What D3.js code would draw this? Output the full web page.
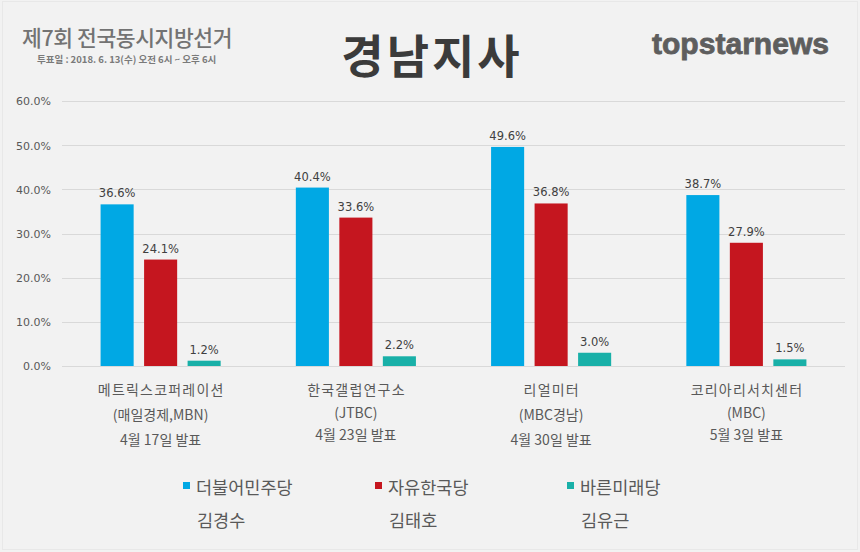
<!DOCTYPE html>
<html>
<head>
<meta charset="utf-8">
<script src="https://cdn.jsdelivr.net/npm/d3@7"></script>
<style>
  html, body { margin: 0; padding: 0; background: #f2f2f2; }
  svg { display: block; }
</style>
</head>
<body>
<svg id="chart" width="860" height="552"></svg>
<script>
// ---- data ----
const categories = [
  ["메트릭스코퍼레이션", "(매일경제,MBN)", "4월 17일 발표"],
  ["한국갤럽연구소", "(JTBC)", "4월 23일 발표"],
  ["리얼미터", "(MBC경남)", "4월 30일 발표"],
  ["코리아리서치센터", "(MBC)", "5월 3일 발표"]
];
const parties = ["더불어민주당", "자유한국당", "바른미래당"];
const candidates = ["김경수", "김태호", "김유근"];
const seriesValues = [
  [36.6, 40.4, 49.6, 38.7],
  [24.1, 33.6, 36.8, 27.9],
  [1.2, 2.2, 3.0, 1.5]
];
const yTicks = [0, 10, 20, 30, 40, 50, 60];
const colors = ["#00a8e4", "#c5161f", "#19b0a8"];
const titleText = "경남지사";
const headerText = "제7회 전국동시지방선거";
const subHeaderText = "투표일 : 2018. 6. 13(수) 오전 6시 ~ 오후 6시";
const logoText = "topstarnews";

// ---- drawing ----
const svg = d3.select("#chart");
const W = 860, H = 552;
const KR = "'Noto Sans CJK KR', 'Noto Sans', sans-serif";
const NUM = "'DejaVu Sans', Verdana, sans-serif";

svg.append("rect").attr("width", W).attr("height", H).attr("fill", "#f2f2f2");
svg.append("rect").attr("x", 2.5).attr("y", 1.5).attr("width", W - 5).attr("height", H - 4)
  .attr("fill", "none").attr("stroke", "#e8e8e8");

// header
svg.append("text").attr("x", 22).attr("y", 46).text(headerText)
  .attr("font-family", KR).attr("font-size", 21.5).attr("font-weight", 500)
  .attr("letter-spacing", -0.4).attr("fill", "#737373");
svg.append("text").attr("x", 37).attr("y", 63).text(subHeaderText)
  .attr("font-family", KR).attr("font-size", 9.5).attr("font-weight", 700)
  .attr("fill", "#7a7a7a");
svg.append("text").attr("x", 432).attr("y", 73).attr("text-anchor", "middle").text(titleText)
  .attr("font-family", KR).attr("font-size", 46).attr("font-weight", 700)
  .attr("letter-spacing", 3).attr("fill", "#3b3b3b");
svg.append("text").attr("x", 652).attr("y", 54).text(logoText)
  .attr("font-family", "'Liberation Sans', Arial, sans-serif").attr("font-size", 30)
  .attr("font-weight", 700).attr("fill", "#5e5e5e")
  .attr("stroke", "#5e5e5e").attr("stroke-width", 0.8)
  .attr("textLength", 177).attr("lengthAdjust", "spacingAndGlyphs");

// scales
const x0 = d3.scaleBand().domain(d3.range(categories.length)).range([63, 844])
  .paddingInner(0.385).paddingOuter(0.1925);
const x1 = d3.scaleBand().domain(d3.range(parties.length)).range([0, x0.bandwidth()])
  .paddingInner(0.24);
const y = d3.scaleLinear().domain([0, 60]).range([366, 101]);

// grid
svg.append("g").selectAll("line").data(yTicks).join("line")
  .attr("x1", 62).attr("x2", 845)
  .attr("y1", d => Math.round(y(d)) + 0.5).attr("y2", d => Math.round(y(d)) + 0.5)
  .attr("stroke", "#d9d9d9").attr("stroke-width", 1);

// y axis labels
const yAxis = d3.axisLeft(y).tickValues(yTicks).tickSize(0).tickPadding(0)
  .tickFormat(d => d3.format(".1f")(d) + "%");
const yg = svg.append("g").attr("transform", "translate(51,0)").call(yAxis);
yg.select(".domain").remove();
yg.selectAll("text").attr("font-family", NUM).attr("font-size", 11)
  .attr("fill", "#595959").attr("dy", "0.35em");

// bars
const groups = svg.append("g").selectAll("g").data(categories).join("g")
  .attr("transform", (d, i) => `translate(${x0(i)},0)`);
groups.each(function (cat, ci) {
  const g = d3.select(this);
  parties.forEach((p, si) => {
    const v = seriesValues[si][ci];
    g.append("rect")
      .attr("x", x1(si)).attr("width", x1.bandwidth())
      .attr("y", y(v)).attr("height", y(0) - y(v))
      .attr("fill", colors[si]);
    g.append("text")
      .attr("x", x1(si) + x1.bandwidth() / 2).attr("y", y(v) - 7)
      .attr("text-anchor", "middle").text(d3.format(".1f")(v) + "%")
      .attr("font-family", NUM).attr("font-size", 11.5).attr("fill", "#404040");
  });
});

// category labels
const hasHangul = s => /[\uac00-\ud7a3]/.test(s);
categories.forEach((lines, ci) => {
  const cx = x0(ci) + x0.bandwidth() / 2;
  let yy = 395, prevH = null;
  lines.forEach((ln, li) => {
    const h = hasHangul(ln) ? 25 : 20;
    if (prevH !== null) yy += (prevH + h) / 2;
    prevH = h;
    const ls = li === 0 ? 1.2 : 0;
    svg.append("text").attr("x", cx + ls / 2).attr("y", yy).attr("text-anchor", "middle")
      .text(ln).attr("font-family", KR).attr("font-size", 14)
      .attr("font-weight", 400)
      .attr("letter-spacing", ls)
      .attr("fill", "#595959");
  });
});

// legend
const legendX = d3.scalePoint().domain(d3.range(parties.length)).range([183, 567]);
parties.forEach((p, i) => {
  const lx = legendX(i);
  svg.append("rect").attr("x", lx).attr("y", 482).attr("width", 7).attr("height", 7)
    .attr("fill", colors[i]);
  svg.append("text").attr("x", lx + 13).attr("y", 494).text(p)
    .attr("font-family", KR).attr("font-size", 17.5).attr("fill", "#595959");
  svg.append("text").attr("x", lx + 14).attr("y", 527).text(candidates[i])
    .attr("font-family", KR).attr("font-size", 17.5).attr("fill", "#595959");
});
</script>
</body>
</html>
